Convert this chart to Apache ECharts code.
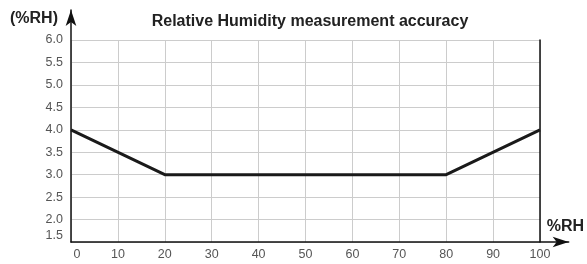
<!DOCTYPE html>
<html>
<head>
<meta charset="utf-8">
<script src="https://cdn.jsdelivr.net/npm/echarts@6/dist/echarts.min.js"></script>
<style>
  html, body { margin: 0; padding: 0; background: #fff; }
  #chart { width: 587px; height: 264px; }
</style>
</head>
<body>
<div id="chart"></div>
<script>
// humidity (%RH) and accuracy (± %RH)
const humidity = [0, 20, 80, 100]
const accuracy = [4.0, 3.0, 3.0, 4.0]
const xTicks = { min: 0, max: 100, step: 10 }
const yTicks = { min: 1.5, max: 6.0, step: 0.5 }

const chart = echarts.init(document.getElementById('chart'))
const labelFont = { color: '#555', fontSize: 12.5, fontFamily: 'Liberation Sans, Arial, sans-serif' }
const boldFont = { color: '#222', fontSize: 16, fontWeight: 'bold', fontFamily: 'Liberation Sans, Arial, sans-serif' }

chart.setOption({
  animation: false,
  title: {
    text: 'Relative Humidity measurement accuracy',
    left: 305,
    textAlign: 'center',
    top: 9,
    textStyle: boldFont
  },
  grid: [
    { left: 71, right: 47, top: 40, bottom: 22 },
    // arrow axes, a bit longer than the plot
    { left: 71, right: 17, top: 10, bottom: 22 }
  ],
  xAxis: [
    {
      gridIndex: 0,
      type: 'value',
      min: xTicks.min,
      max: xTicks.max,
      interval: xTicks.step,
      axisLine: { show: false },
      axisTick: { show: false },
      splitLine: { lineStyle: { color: '#ccc', width: 1 } },
      axisLabel: {
        ...labelFont,
        margin: 6,
        formatter: v => (v === 0 ? '{z|0}' : String(v)),
        rich: { z: { ...labelFont, padding: [0, 0, 0, 12] } }
      }
    },
    {
      gridIndex: 1,
      type: 'value',
      min: 0,
      max: 1,
      axisLabel: { show: false },
      axisTick: { show: false },
      splitLine: { show: false },
      axisLine: {
        lineStyle: { color: '#111', width: 1.5 },
        symbol: ['none', 'arrow'],
        symbolSize: [8, 16]
      },
      name: '%RH',
      nameLocation: 'end',
      nameGap: -22,
      nameTextStyle: { ...boldFont, align: 'left', verticalAlign: 'bottom', padding: [0, 0, 7, 0] }
    }
  ],
  yAxis: [
    {
      gridIndex: 0,
      type: 'value',
      min: yTicks.min,
      max: yTicks.max,
      interval: yTicks.step,
      axisLine: { show: false },
      axisTick: { show: false },
      splitLine: { lineStyle: { color: '#ccc', width: 1 } },
      axisLabel: {
        ...labelFont,
        margin: 8,
        formatter: v => (v === yTicks.min ? '{b|' + v.toFixed(1) + '}' : v.toFixed(1)),
        rich: { b: { ...labelFont, padding: [0, 0, 12, 0] } }
      }
    },
    {
      gridIndex: 0,
      type: 'value',
      position: 'right',
      min: yTicks.min,
      max: yTicks.max,
      axisLine: { show: true, lineStyle: { color: '#111', width: 1.5 } },
      axisTick: { show: false },
      axisLabel: { show: false },
      splitLine: { show: false }
    },
    {
      gridIndex: 1,
      type: 'value',
      min: 0,
      max: 1,
      axisLabel: { show: false },
      axisTick: { show: false },
      splitLine: { show: false },
      axisLine: {
        show: true,
        lineStyle: { color: '#111', width: 1.5 },
        symbol: ['none', 'arrow'],
        symbolSize: [8, 16]
      },
      name: '(%RH)',
      nameLocation: 'end',
      nameGap: -9,
      nameTextStyle: { ...boldFont, align: 'right', verticalAlign: 'middle', padding: [0, 13, 0, 0] }
    }
  ],
  series: [
    {
      type: 'line',
      xAxisIndex: 0,
      yAxisIndex: 0,
      data: humidity.map((h, i) => [h, accuracy[i]]),
      showSymbol: false,
      lineStyle: { color: '#1a1a1a', width: 3 },
      z: 5
    }
  ]
})
</script>
</body>
</html>
